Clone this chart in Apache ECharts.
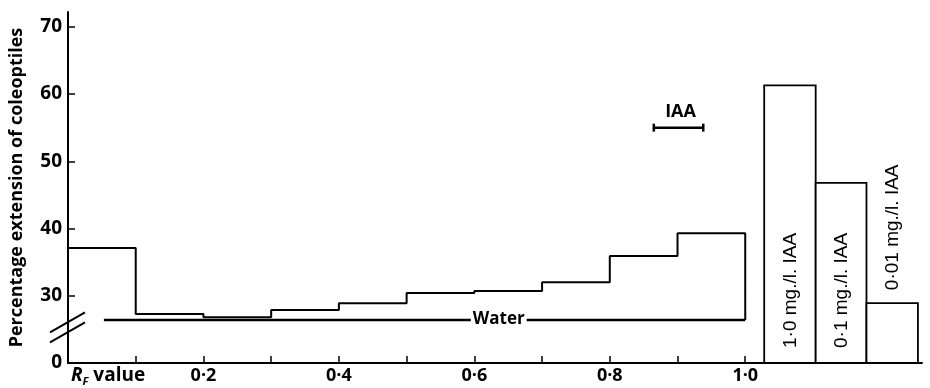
<!DOCTYPE html>
<html>
<head>
<meta charset="utf-8">
<script src="https://cdn.jsdelivr.net/npm/echarts@6/dist/echarts.min.js"></script>
<style>
  html, body { margin: 0; padding: 0; background: #fff; }
  #chart { width: 930px; height: 388px; }
</style>
</head>
<body>
<div id="chart"></div>
<script>
// chromatogram strips: left edge of each 0.1 Rf band, and % extension
const rfEdges = [0, 0.1, 0.2, 0.3, 0.4, 0.5, 0.6, 0.7, 0.8, 0.9, 1.0];
const extension = [37.1, 27.3, 26.8, 27.9, 28.9, 30.4, 30.7, 32.0, 35.9, 39.3];
// water control
const waterLevel = 26.4;
const waterFrom = 0.053;
const waterLabelAt = 0.636;
// position of IAA spot on the chromatogram
const iaaSpot = [0.865, 0.938];
const iaaLevel = 55;
// IAA standards
const standardNames = ['1·0 mg./l. IAA', '0·1 mg./l. IAA', '0·01 mg./l. IAA'];
const standardEdges = [1.028, 1.104, 1.179, 1.255];
const standardValues = [61.3, 46.8, 28.9];
// axis ticks / labels (y axis is broken: bottom shows 0)
const yTicks = [30, 40, 50, 60, 70];
const yLabels = [20, 30, 40, 50, 60, 70];
const xTicks = [0.1, 0.2, 0.3, 0.4, 0.5, 0.6, 0.7, 0.8, 0.9, 1.0];
const xLabels = [0.2, 0.4, 0.6, 0.8, 1.0];

const yBase = 20;
const boldFont = 'Open Sans';

let stepData = rfEdges.map(function (x, i) {
  return [x, i < extension.length ? extension[i] : extension[extension.length - 1]];
});
stepData.push([1.0, waterLevel]);

let standardData = standardValues.map(function (v, i) {
  return [standardEdges[i], standardEdges[i + 1], v];
});

let option = {
  animation: false,
  grid: { left: 63, right: 8, top: 12, bottom: 25 },
  xAxis: {
    type: 'value',
    min: 0,
    max: 1.261,
    splitLine: { show: false },
    axisLine: { lineStyle: { color: '#000', width: 2 } },
    axisTick: { inside: true, length: 7, lineStyle: { color: '#000', width: 1.5 }, customValues: xTicks },
    axisLabel: {
      customValues: xLabels,
      color: '#000',
      fontFamily: boldFont,
      fontWeight: 'bold',
      fontSize: 18,
      margin: 4,
      formatter: function (v) { return v.toFixed(1).replace('.', '·'); }
    },
    name: '{r|R}{f|F}{t| value}',
    nameLocation: 'start',
    nameGap: -3,
    nameTextStyle: {
      align: 'left',
      verticalAlign: 'top',
      padding: [2, 0, 0, 0],
      rich: {
        r: { fontFamily: boldFont, fontWeight: 'bold', fontStyle: 'italic', fontSize: 19, color: '#000' },
        f: { fontFamily: boldFont, fontWeight: 'bold', fontStyle: 'italic', fontSize: 11, color: '#000', verticalAlign: 'bottom', padding: [11, 0, 0, 0] },
        t: { fontFamily: boldFont, fontWeight: 'bold', fontSize: 19, color: '#000' }
      }
    }
  },
  yAxis: {
    type: 'value',
    min: yBase,
    max: 72.2,
    splitLine: { show: false },
    axisLine: { show: true, lineStyle: { color: '#000', width: 2 } },
    axisTick: { show: true, inside: true, length: 7, lineStyle: { color: '#000', width: 1.5 }, customValues: yTicks },
    axisLabel: {
      customValues: yLabels,
      color: '#000',
      fontFamily: boldFont,
      fontWeight: 'bold',
      fontSize: 19,
      margin: 6,
      formatter: function (v) { return v === yBase ? '0' : String(v); }
    },
    name: 'Percentage extension of coleoptiles',
    nameLocation: 'middle',
    nameGap: 42,
    nameTextStyle: { color: '#000', fontFamily: boldFont, fontWeight: 'bold', fontSize: 18 }
  },
  series: [
    {
      name: 'Chromatogram',
      type: 'line',
      step: 'end',
      data: stepData,
      symbol: 'none',
      lineStyle: { color: '#000', width: 2 }
    },
    {
      name: 'Water',
      type: 'line',
      data: [[waterFrom, waterLevel], [1.0, waterLevel]],
      symbol: 'none',
      lineStyle: { color: '#000', width: 2.5 }
    },
    {
      name: 'Water label',
      type: 'custom',
      z: 10,
      data: [[waterLabelAt, waterLevel]],
      renderItem: function (params, api) {
        let p = api.coord([api.value(0), api.value(1)]);
        return {
          type: 'text',
          x: p[0], y: p[1] - 1,
          z2: 10,
          style: {
            text: 'Water', align: 'center', verticalAlign: 'middle',
            fontFamily: boldFont, fontWeight: 'bold', fontSize: 17, fill: '#000',
            backgroundColor: '#fff', padding: [0, 2]
          }
        };
      }
    },
    {
      name: 'IAA spot',
      type: 'custom',
      data: [[iaaSpot[0], iaaSpot[1], iaaLevel]],
      renderItem: function (params, api) {
        let a = api.coord([api.value(0), api.value(2)]);
        let b = api.coord([api.value(1), api.value(2)]);
        let st = { stroke: '#000', lineWidth: 2.5 };
        return {
          type: 'group',
          children: [
            { type: 'line', shape: { x1: a[0], y1: a[1], x2: b[0], y2: b[1] }, style: st },
            { type: 'line', shape: { x1: a[0], y1: a[1] - 4, x2: a[0], y2: a[1] + 4 }, style: st },
            { type: 'line', shape: { x1: b[0], y1: b[1] - 4, x2: b[0], y2: b[1] + 4 }, style: st },
            {
              type: 'text', x: (a[0] + b[0]) / 2 + 2, y: a[1] - 7,
              style: { text: 'IAA', align: 'center', verticalAlign: 'bottom', fontFamily: boldFont, fontWeight: 'bold', fontSize: 18, fill: '#000' }
            }
          ]
        };
      }
    },
    {
      name: 'Standards',
      type: 'custom',
      data: standardData,
      encode: { x: [0, 1], y: 2 },
      renderItem: function (params, api) {
        let tl = api.coord([api.value(0), api.value(2)]);
        let br = api.coord([api.value(1), yBase]);
        let w = br[0] - tl[0];
        let h = br[1] - tl[1];
        let inside = h > 150;
        return {
          type: 'group',
          children: [
            { type: 'rect', shape: { x: tl[0], y: tl[1], width: w, height: h }, style: { fill: '#fff', stroke: '#000', lineWidth: 1.8 } },
            {
              type: 'text',
              x: tl[0] + w / 2 + 1,
              y: inside ? br[1] - 15 : tl[1] - 13,
              rotation: Math.PI / 2,
              style: {
                text: standardNames[params.dataIndex], align: 'left', verticalAlign: 'middle',
                fontFamily: 'Liberation Sans', fontSize: 19, fill: '#000'
              }
            }
          ]
        };
      }
    },
    {
      name: 'Axis break',
      type: 'custom',
      data: [[0, 25.3]],
      clip: false,
      renderItem: function (params, api) {
        let p = api.coord([api.value(0), api.value(1)]);
        let st = { stroke: '#000', lineWidth: 2 };
        return {
          type: 'group',
          children: [
            { type: 'line', shape: { x1: p[0] - 18, y1: p[1] + 5, x2: p[0] + 17, y2: p[1] - 15 }, style: st },
            { type: 'line', shape: { x1: p[0] - 18, y1: p[1] + 15, x2: p[0] + 17, y2: p[1] - 5 }, style: st }
          ]
        };
      }
    }
  ]
};

const chart = document.getElementById('chart');
let myChart = echarts.init(chart);
myChart.setOption(option);
</script>
</body>
</html>
